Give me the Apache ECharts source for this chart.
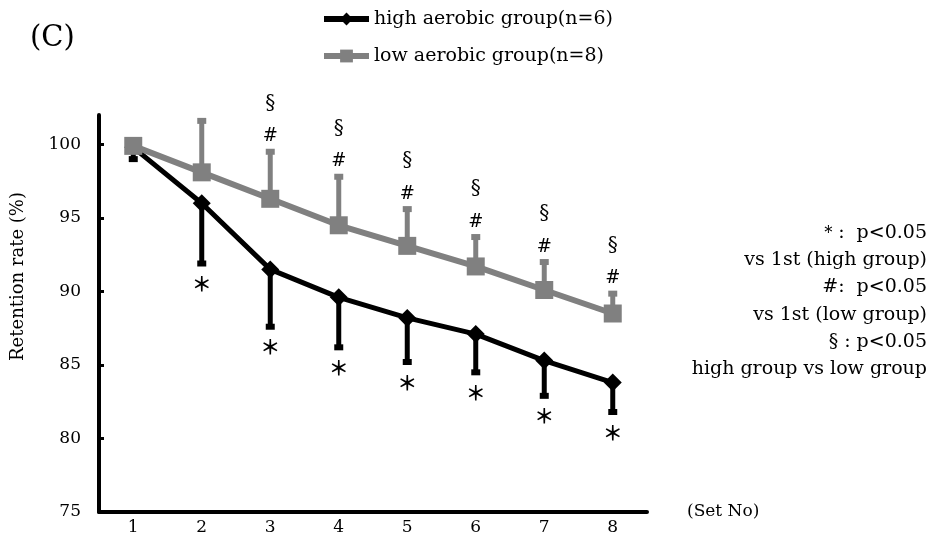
<!DOCTYPE html>
<html>
<head>
<meta charset="utf-8">
<script src="https://cdn.jsdelivr.net/npm/echarts@6/dist/echarts.min.js"></script>
<style>
  html, body { margin: 0; background: #fff; }
  #chart { width: 931px; height: 545px; }
</style>
</head>
<body>
<div id="chart"></div>
<script>
// data
var sets = ['1', '2', '3', '4', '5', '6', '7', '8'];
var yTicks = [75, 80, 85, 90, 95, 100];
var highMean = [99.8, 96.0, 91.5, 89.6, 88.2, 87.1, 85.3, 83.8];
var highSD = [0.8, 4.1, 3.9, 3.4, 3.0, 2.6, 2.4, 2.0];
var lowMean = [99.9, 98.1, 96.3, 94.5, 93.1, 91.7, 90.1, 88.5];
var lowSD = [0, 3.5, 3.2, 3.3, 2.5, 2.0, 1.9, 1.35];
// significance marks
var highMark = ['', '＊', '＊', '＊', '＊', '＊', '＊', '＊'];
var lowMark = ['', '', '#', '#', '#', '#', '#', '#'];
var diffMark = ['', '', '§', '§', '§', '§', '§', '§'];
var noteLines = ['＊:  p<0.05', 'vs 1st (high group)', '#:  p<0.05', 'vs 1st (low group)', '§ : p<0.05', 'high group vs low group'];

var serif = 'DejaVu Serif';
var gray = '#808080';

var chart = echarts.init(document.getElementById('chart'));

function errBar(color, dir, marks) {
  return function (params, api) {
    var i = api.value(0), m = api.value(1), sd = api.value(2);
    var p0 = api.coord([i, m]);
    var p1 = api.coord([i, m + dir * sd]);
    var kids = [];
    if (sd > 0) {
      kids.push({
        type: 'line',
        shape: { x1: p0[0], y1: p0[1], x2: p1[0], y2: p1[1] },
        style: { stroke: color, lineWidth: 5 }
      });
      kids.push({
        type: 'rect',
        shape: { x: p1[0] - 4.5, y: p1[1] - 3, width: 9, height: 6 },
        style: { fill: color }
      });
    }
    marks.forEach(function (mk) {
      var t = mk.arr[params.dataIndex];
      if (!t) return;
      kids.push({
        type: 'text',
        x: p1[0], y: p1[1] + mk.dy,
        style: {
          text: t, fill: '#000', font: mk.font,
          align: 'center', verticalAlign: 'middle'
        }
      });
    });
    return { type: 'group', children: kids };
  };
}

// note block on the right, one text per line, right aligned
var notes = noteLines.map(function (t, k) {
  return {
    type: 'text', x: 927, y: 233 + k * 27.2,
    style: { text: t, font: '19px "DejaVu Serif"', fill: '#000', align: 'right', verticalAlign: 'middle' }
  };
});

chart.setOption({
  animation: false,
  backgroundColor: '#fff',
  textStyle: { fontFamily: serif, color: '#000' },
  grid: { left: 99, width: 548, top: 115, bottom: 33, outerBoundsMode: 'none' },
  legend: {
    orient: 'vertical',
    left: 316,
    top: 4,
    itemWidth: 45,
    itemHeight: 16,
    itemGap: 17,
    lineStyle: { width: 6 },
    textStyle: { fontFamily: serif, fontSize: 19, lineHeight: 20, color: '#000' },
    data: ['high aerobic group(n=6)', 'low aerobic group(n=8)']
  },
  xAxis: {
    type: 'category',
    data: sets,
    boundaryGap: true,
    name: '(Set No)',
    nameLocation: 'end',
    nameGap: 40,
    nameTextStyle: { fontFamily: serif, fontSize: 17, color: '#000', padding: [30, 0, 0, 0] },
    axisLine: { lineStyle: { color: '#000', width: 4 } },
    axisTick: { inside: true, length: 5, lineStyle: { color: '#000', width: 3 } },
    axisLabel: { fontFamily: serif, fontSize: 17, color: '#000', margin: 7 },
    splitLine: { show: false }
  },
  yAxis: {
    type: 'value',
    min: 75,
    max: 102,
    interval: 5,
    name: 'Retention rate (%)',
    nameLocation: 'middle',
    nameGap: 72,
    nameTextStyle: { fontFamily: serif, fontSize: 18, color: '#000', padding: [0, 0, 0, 74] },
    axisLine: { show: true, lineStyle: { color: '#000', width: 4 } },
    axisTick: { show: true, inside: true, length: 5, lineStyle: { color: '#000', width: 3 }, customValues: yTicks },
    axisLabel: { fontFamily: serif, fontSize: 17, color: '#000', margin: 18, customValues: yTicks },
    splitLine: { show: false }
  },
  graphic: [
    {
      type: 'text', left: 30, top: 24,
      style: { text: '(C)', font: '29px "DejaVu Serif"', fill: '#000' }
    }
  ].concat(notes),
  series: [
    {
      type: 'custom',
      name: 'high err',
      renderItem: errBar('#000', -1, [{ arr: highMark, dy: 21, font: 'bold 20px "Noto Sans CJK JP"' }]),
      encode: { x: 0, y: 1 },
      data: sets.map(function (s, i) { return [i, highMean[i], highSD[i]]; }),
      z: 1
    },
    {
      type: 'line',
      name: 'high aerobic group(n=6)',
      data: highMean,
      symbol: 'diamond',
      symbolSize: 18,
      lineStyle: { color: '#000', width: 5 },
      itemStyle: { color: '#000' },
      z: 2
    },
    {
      type: 'custom',
      name: 'low err',
      renderItem: errBar(gray, 1, [
        { arr: lowMark, dy: -15, font: '18px "DejaVu Serif"' },
        { arr: diffMark, dy: -48, font: '20px "DejaVu Serif"' }
      ]),
      encode: { x: 0, y: 1 },
      data: sets.map(function (s, i) { return [i, lowMean[i], lowSD[i]]; }),
      z: 3
    },
    {
      type: 'line',
      name: 'low aerobic group(n=8)',
      data: lowMean,
      symbol: 'rect',
      symbolSize: 18,
      lineStyle: { color: gray, width: 6 },
      itemStyle: { color: gray },
      z: 4
    }
  ]
});
</script>
</body>
</html>
